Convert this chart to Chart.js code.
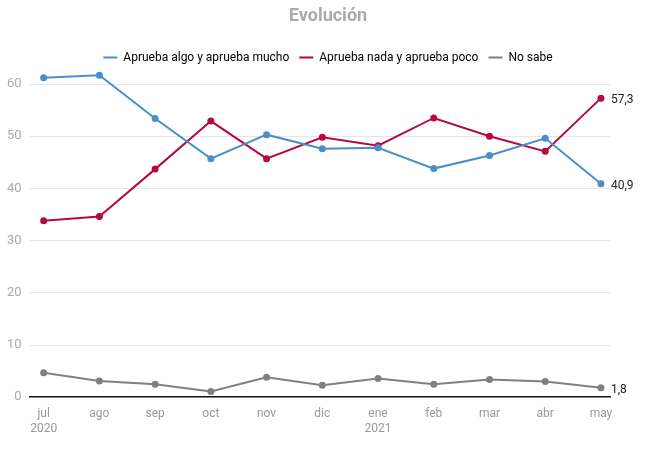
<!DOCTYPE html>
<html>
<head>
<meta charset="utf-8">
<script src="https://cdn.jsdelivr.net/npm/chart.js@4"></script>
<style>
  html, body { margin: 0; padding: 0; background: #fff; }
  #wrap { width: 666px; height: 460px; }
</style>
</head>
<body>
<div id="wrap"><canvas id="myChart"></canvas></div>
<script>
// months on the x axis (second line only where the year starts)
var months = [['jul', '2020'], 'ago', 'sep', 'oct', 'nov', 'dic', ['ene', '2021'], 'feb', 'mar', 'abr', 'may'];

// values
var apruebaAlgoMucho = [61.2, 61.7, 53.4, 45.7, 50.3, 47.6, 47.8, 43.8, 46.3, 49.6, 40.9];
var apruebaNadaPoco  = [33.8, 34.6, 43.7, 52.9, 45.7, 49.8, 48.2, 53.5, 50.0, 47.1, 57.3];
var noSabe           = [4.7, 3.1, 2.5, 1.1, 3.8, 2.3, 3.6, 2.5, 3.4, 3.0, 1.8];

var blue = '#4a8fc8';
var red = '#b40a3c';
var grey = '#808080';
var fontFamily = "Roboto, sans-serif";

function toPoints(values) {
    return values.map(function(v, i) { return {x: i, y: v}; });
}

function makeSet(label, values, color) {
    return {
        label: label,
        data: toPoints(values),
        borderColor: color,
        backgroundColor: color,
        borderWidth: 2,
        pointRadius: 3.5,
        pointHoverRadius: 4,
        pointBorderWidth: 0,
        fill: false,
        tension: 0,
        clip: false
    };
}

// writes the last value (with a comma) to the right of each line
var endLabels = {
    id: 'endLabels',
    afterDatasetsDraw: function(chart) {
        var ctx = chart.ctx;
        ctx.save();
        ctx.font = '12px ' + fontFamily;
        ctx.fillStyle = '#222';
        ctx.textAlign = 'left';
        ctx.textBaseline = 'middle';
        chart.data.datasets.forEach(function(ds, i) {
            var meta = chart.getDatasetMeta(i);
            var last = meta.data[meta.data.length - 1];
            var val = ds.data[ds.data.length - 1].y;
            ctx.fillText(String(val).replace('.', ','), last.x + 10, last.y + 2);
        });
        ctx.restore();
    }
};

var chart = new Chart('myChart', {
    type: 'line',
    data: {
        datasets: [
            makeSet('Aprueba algo y aprueba mucho', apruebaAlgoMucho, blue),
            makeSet('Aprueba nada y aprueba poco', apruebaNadaPoco, red),
            makeSet('No sabe', noSabe, grey)
        ]
    },
    options: {
        responsive: true,
        maintainAspectRatio: false,
        animation: false,
        layout: { padding: { left: 0, right: 10, top: 4, bottom: 22 } },
        plugins: {
            title: {
                display: true,
                text: 'Evolución',
                color: '#aaaaaa',
                font: { family: fontFamily, size: 18, weight: 'bold' },
                padding: { top: 2, bottom: 14 }
            },
            legend: {
                display: true,
                labels: {
                    color: '#222',
                    font: { family: fontFamily, size: 12 },
                    boxWidth: 14,
                    boxHeight: 2,
                    padding: 10,
                    generateLabels: function(chart) {
                        return chart.data.datasets.map(function(ds, i) {
                            return {
                                text: ds.label,
                                fillStyle: ds.borderColor,
                                strokeStyle: ds.borderColor,
                                lineWidth: 0,
                                datasetIndex: i
                            };
                        });
                    }
                }
            },
            tooltip: { enabled: false }
        },
        scales: {
            x: {
                type: 'linear',
                min: -0.27,
                max: 10.18,
                grid: { display: false },
                border: { display: false },
                ticks: {
                    stepSize: 1,
                    includeBounds: false,
                    autoSkip: false,
                    maxRotation: 0,
                    color: '#999',
                    padding: 2,
                    font: { family: fontFamily, size: 12 },
                    callback: function(value) {
                        if (Number.isInteger(value) && months[value] !== undefined) return months[value];
                        return '';
                    }
                }
            },
            y: {
                min: 0,
                max: 62,
                grid: {
                    color: function(c) { return c.tick.value === 0 ? '#111' : '#e6e6e6'; },
                    lineWidth: function(c) { return c.tick.value === 0 ? 1.5 : 1; },
                    drawTicks: false
                },
                border: { display: false },
                ticks: {
                    stepSize: 10,
                    includeBounds: false,
                    color: '#aaa',
                    padding: 7,
                    font: { family: fontFamily, size: 13 }
                }
            },
            yRight: {
                position: 'right',
                display: true,
                grid: { display: false },
                border: { display: false },
                ticks: { display: false },
                afterFit: function(scale) { scale.width = 45; }
            }
        }
    },
    plugins: [endLabels]
});
</script>
</body>
</html>
